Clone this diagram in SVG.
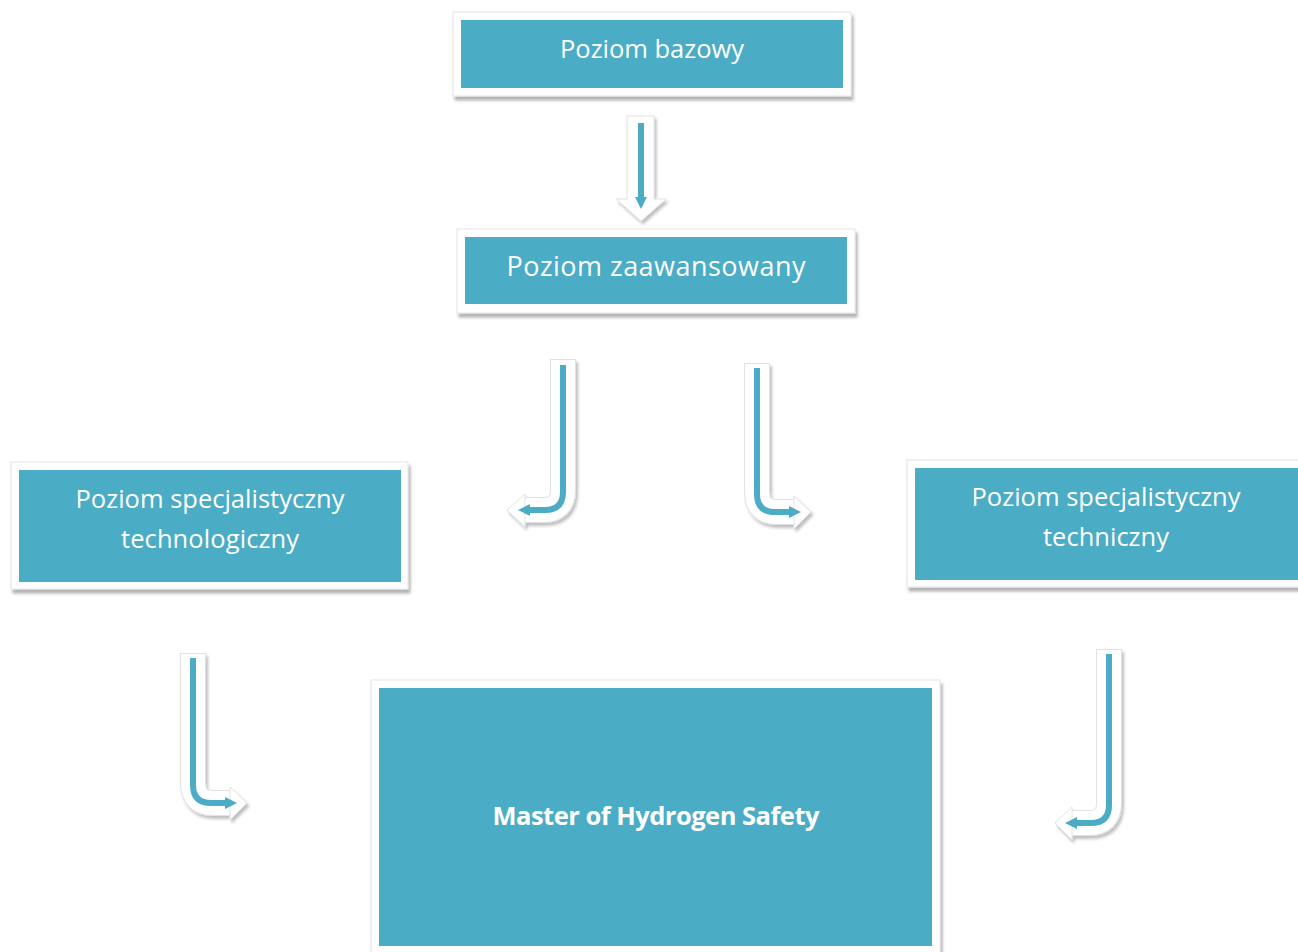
<svg xmlns="http://www.w3.org/2000/svg" width="1298" height="952" viewBox="0 0 1298 952">
<defs>
<filter id="sh" x="-10%" y="-10%" width="130%" height="140%">
<feDropShadow dx="2" dy="4" stdDeviation="1.5" flood-color="#000" flood-opacity="0.3"/>
</filter>
<filter id="ash" x="-30%" y="-10%" width="160%" height="130%">
<feDropShadow dx="2" dy="3" stdDeviation="1.5" flood-color="#000" flood-opacity="0.25"/>
</filter>
<marker id="ah" viewBox="0 0 10 10" refX="5" refY="5" markerWidth="2" markerHeight="2" orient="auto" markerUnits="strokeWidth">
<path d="M0,0 L10,5 L0,10 z" fill="#4BACC6"/>
</marker>
</defs>
<style>
.frame{fill:#fff;stroke:#e4e4e4;stroke-width:1}
.box{fill:#4BACC6}
.t{font-family:"Open Sans","Liberation Sans",sans-serif;fill:#fff;text-anchor:middle}
.g{fill:none;stroke:#e2e2e2;stroke-width:26;stroke-linejoin:round}
.w{fill:none;stroke:#fff;stroke-width:24;stroke-linejoin:round}
.wh{fill:#fff;stroke:#e2e2e2;stroke-width:1}
.c{fill:none;stroke:#4BACC6;stroke-width:6}
</style>
<rect width="1298" height="952" fill="#fff"/>

<g id="n1">
<rect class="frame" x="453" y="12" width="398" height="84" filter="url(#sh)"/>
<rect class="box" x="461" y="20" width="382" height="68"/>
<text class="t" x="652" y="58" font-size="25.5" textLength="184">Poziom bazowy</text>
</g>

<g id="n2">
<rect class="frame" x="457" y="229" width="398" height="84" filter="url(#sh)"/>
<rect class="box" x="465" y="237" width="382" height="67"/>
<text class="t" x="656" y="276" font-size="27" textLength="299">Poziom zaawansowany</text>
</g>

<g id="n3">
<rect class="frame" x="11" y="462" width="397" height="127" filter="url(#sh)"/>
<rect class="box" x="19" y="470" width="382" height="112"/>
<text class="t" x="210" y="508" font-size="25.5" textLength="269">Poziom specjalistyczny</text>
<text class="t" x="210" y="548" font-size="25.5" textLength="178">technologiczny</text>
</g>

<g id="n4">
<rect class="frame" x="907" y="460" width="400" height="127" filter="url(#sh)"/>
<rect class="box" x="915" y="468" width="392" height="112"/>
<text class="t" x="1106" y="506" font-size="25.5" textLength="269">Poziom specjalistyczny</text>
<text class="t" x="1106" y="546" font-size="25.5" textLength="126">techniczny</text>
</g>

<g id="n5">
<rect class="frame" x="371" y="680" width="569" height="290" filter="url(#sh)"/>
<rect class="box" x="379" y="688" width="553" height="258"/>
<text class="t" x="656" y="825" font-size="25.5" font-weight="bold" textLength="327">Master of Hydrogen Safety</text>
</g>

<g id="connectors">
<g filter="url(#ash)">
<path class="wh" d="M627,116 L654,116 L654,199 L666,199 L641,221 L616,199 L627,199 z"/>
<path class="g" d="M563,359 L563,490 Q563,510 543,510 L522,510"/>
<path class="w" d="M563,360 L563,490 Q563,510 543,510 L522,510"/>
<path class="wh" d="M525,494 L525,527 L507,510 z"/>
<path class="g" d="M757,363 L757,492 Q757,512 777,512 L797,512"/>
<path class="w" d="M757,364 L757,492 Q757,512 777,512 L797,512"/>
<path class="wh" d="M794,496 L794,529 L811,512 z"/>
<path class="g" d="M193,653 L193,783 Q193,803 213,803 L233,803"/>
<path class="w" d="M193,654 L193,783 Q193,803 213,803 L233,803"/>
<path class="wh" d="M230,787 L230,820 L247,803 z"/>
<path class="g" d="M1109,649 L1109,803 Q1109,823 1089,823 L1069,823"/>
<path class="w" d="M1109,650 L1109,803 Q1109,823 1089,823 L1069,823"/>
<path class="wh" d="M1072,807 L1072,840 L1055,823 z"/>
</g>
<path class="c" d="M641,123 L641,203" marker-end="url(#ah)"/>
<path class="c" d="M563,365 L563,492 Q563,510 545,510 L524,510" marker-end="url(#ah)"/>
<path class="c" d="M757,368 L757,494 Q757,512 775,512 L795,512" marker-end="url(#ah)"/>
<path class="c" d="M193,658 L193,785 Q193,803 211,803 L231,803" marker-end="url(#ah)"/>
<path class="c" d="M1109,654 L1109,805 Q1109,823 1091,823 L1071,823" marker-end="url(#ah)"/>
</g>
</svg>
